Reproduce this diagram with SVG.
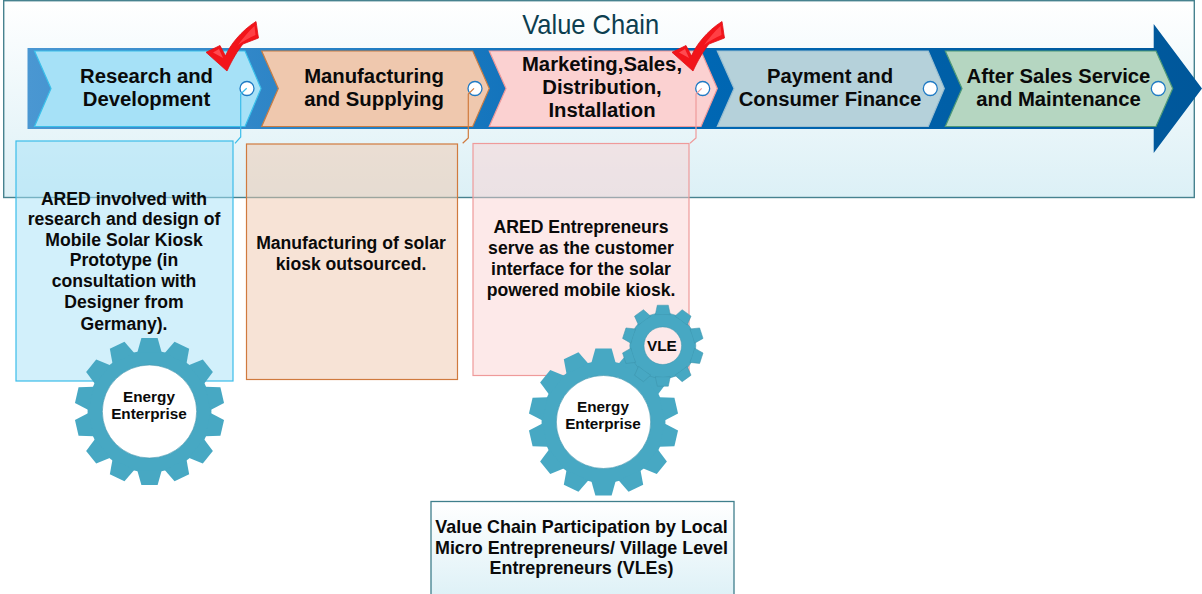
<svg xmlns="http://www.w3.org/2000/svg" xmlns:xlink="http://www.w3.org/1999/xlink" width="1202" height="594" viewBox="0 0 1202 594">
<style>
text{font-family:"Liberation Sans",Arial,sans-serif;font-weight:bold;text-anchor:middle;fill:#0a0a0a}
.h{font-size:20.3px}
.b{font-size:17.6px}
.g{font-size:15.3px}
.dot{fill:#fff;stroke:#1f7ac4;stroke-width:1.3}
.cn{fill:none;stroke-width:1.2}
</style>
<defs>
<linearGradient id="panel" x1="0" y1="0" x2="0" y2="1"><stop offset="0" stop-color="#fff"/><stop offset="1" stop-color="#dcf0f6"/></linearGradient>
<linearGradient id="band" x1="0" y1="0" x2="1" y2="0"><stop offset="0" stop-color="#4a97d2"/><stop offset=".55" stop-color="#0068b5"/><stop offset="1" stop-color="#00579a"/></linearGradient>
<g id="check">
<path d="M256 21.500C257 27 257.500 33 258.500 38L243 44C238 50 232 60 227 71L206 52.300L220 45.500L225.500 56C230 45 241 31 256 21.500Z" fill="#f2141a" stroke="#e01016" stroke-width=".8"/>
<path d="M254.500 26C248 32 243 38 238 45C243 41 249 38 255.500 35Z" fill="#ff3f44"/>
<path d="M213 52.500L219 49L223 58Z" fill="#ff4a50"/>
</g>
<polygon id="t14" points="-12,-59 -8,-73.500 8,-73.500 12,-59" fill="#47a8c3"/>
<g id="gear14">
<circle r="61" fill="#47a8c3"/>
<use xlink:href="#t14"/><use xlink:href="#t14" transform="rotate(25.714)"/><use xlink:href="#t14" transform="rotate(51.429)"/><use xlink:href="#t14" transform="rotate(77.143)"/><use xlink:href="#t14" transform="rotate(102.857)"/><use xlink:href="#t14" transform="rotate(128.571)"/><use xlink:href="#t14" transform="rotate(154.286)"/><use xlink:href="#t14" transform="rotate(180)"/><use xlink:href="#t14" transform="rotate(205.714)"/><use xlink:href="#t14" transform="rotate(231.429)"/><use xlink:href="#t14" transform="rotate(257.143)"/><use xlink:href="#t14" transform="rotate(282.857)"/><use xlink:href="#t14" transform="rotate(308.571)"/><use xlink:href="#t14" transform="rotate(334.286)"/>
<circle r="46.500" fill="#fff" stroke="#3d93ab" stroke-width=".6"/>
</g>
<polygon id="t10" points="-7.500,-31 -5.500,-40.500 5.500,-40.500 7.500,-31" fill="#47a8c3" stroke="#3d93ab" stroke-width=".5"/>
</defs>

<rect id="panel-bg" x="3.700" y=".7" width="1190.600" height="196.800" fill="url(#panel)" stroke="#47828f" stroke-width="1.400"/>
<text x="590.700" y="34" font-size="28" textLength="137" lengthAdjust="spacingAndGlyphs" style="font-weight:normal;fill:#0c3f50">Value Chain</text>

<g id="band-arrow">
<polygon points="27.500,48 1153.700,48 1153.700,24 1202,88.500 1153.700,153 1153.700,129 27.500,129" fill="url(#band)"/>
</g>

<g id="detail-research"><rect x="16" y="141" width="217" height="240" fill="#a6e1f7" fill-opacity=".5" stroke="#3bbdea" stroke-width="1.200"/>
<text class="b"><tspan x="124" y="205">ARED involved with</tspan><tspan x="124" y="225">research and design of</tspan><tspan x="124" y="246">Mobile Solar Kiosk</tspan><tspan x="124" y="266">Prototype (in</tspan><tspan x="124" y="287">consultation with</tspan><tspan x="124" y="308">Designer from</tspan><tspan x="124" y="330">Germany).</tspan></text></g>
<g id="detail-manufacturing"><rect x="246.500" y="144" width="211" height="235.500" fill="#efc8ae" fill-opacity=".5" stroke="#d07a3e" stroke-width="1.200"/>
<text class="b"><tspan x="351" y="249">Manufacturing of solar</tspan><tspan x="351" y="270">kiosk outsourced.</tspan></text></g>
<g id="detail-marketing"><rect x="473" y="143.500" width="216" height="232" fill="#fbd1d1" fill-opacity=".48" stroke="#ef9a9a" stroke-width="1.200"/>
<text class="b"><tspan x="581" y="233">ARED Entrepreneurs</tspan><tspan x="581" y="254">serve as the customer</tspan><tspan x="581" y="275">interface for the solar</tspan><tspan x="581" y="296">powered mobile kiosk.</tspan></text></g>

<g id="stage-research"><polygon points="34.500,51 245,51 261,88.500 245,126.500 34.500,126.500 51,88.500" fill="#a6e1f7" stroke="#3ac0ea" stroke-width="1.200"/>
<text class="h"><tspan x="146.500" y="83">Research and</tspan><tspan x="146.500" y="106">Development</tspan></text></g>
<g id="stage-manufacturing"><polygon points="261.700,51 472.700,51 489.300,88.500 472.700,126.500 261.700,126.500 278.300,88.500" fill="#efc8ae" stroke="#c87d44" stroke-width="1.200"/>
<text class="h"><tspan x="374" y="83">Manufacturing</tspan><tspan x="374" y="106">and Supplying</tspan></text></g>
<g id="stage-marketing"><polygon points="489.300,51 701,51 717.300,88.500 701,126.500 489.300,126.500 506,88.500" fill="#fbd1d1" stroke="#ef9a9a" stroke-width="1.200"/>
<text class="h"><tspan x="602" y="71">Marketing,Sales,</tspan><tspan x="602" y="94">Distribution,</tspan><tspan x="602" y="117">Installation</tspan></text></g>
<g id="stage-payment"><polygon points="717.300,51 928.300,51 944.300,88.500 928.300,126.500 717.300,126.500 734,88.500" fill="#b5d1da" stroke="#9bbfd0" stroke-width="1.200"/>
<text class="h"><tspan x="830" y="83">Payment and</tspan><tspan x="830" y="106">Consumer Finance</tspan></text></g>
<g id="stage-service"><polygon points="945.300,51 1156,51 1172.700,88.500 1156,126.500 945.300,126.500 962,88.500" fill="#b5d6c1" stroke="#4f9a78" stroke-width="1.200"/>
<text class="h"><tspan x="1058.500" y="83">After Sales Service</tspan><tspan x="1058.500" y="106">and Maintenance</tspan></text></g>

<g id="ports">
<circle class="dot" cx="247" cy="88.500" r="7"/><circle class="dot" cx="475" cy="88.500" r="7"/><circle class="dot" cx="702.700" cy="88.500" r="7"/><circle class="dot" cx="930.300" cy="88.500" r="7"/><circle class="dot" cx="1158.300" cy="88.500" r="7"/>
</g>
<g id="connectors">
<polyline class="cn" stroke="#3bbdea" points="246.700,88.300 240.700,94 240.700,137 235,143.300"/>
<polyline class="cn" stroke="#d07a3e" points="474,88.300 468.300,94 468.300,138 462.700,143.300"/>
<polyline class="cn" stroke="#ef9a9a" points="701.700,88.300 696,94 696,138 690,143.300"/>
</g>

<g id="check-research"><use xlink:href="#check"/></g>
<g id="check-marketing"><use xlink:href="#check" transform="translate(466,0)"/></g>

<g id="gear-enterprise-1"><use xlink:href="#gear14" transform="translate(149.500,411.500) scale(1.015,1)"/>
<text class="g"><tspan x="149" y="402">Energy</tspan><tspan x="149" y="419">Enterprise</tspan></text></g>
<g id="gear-enterprise-2"><use xlink:href="#gear14" transform="translate(603.500,422) scale(1.015,1)"/>
<text class="g"><tspan x="603" y="412">Energy</tspan><tspan x="603" y="429">Enterprise</tspan></text></g>
<g id="gear-vle" transform="translate(662.800,345.700)">
<circle r="33" fill="#47a8c3" stroke="#3d93ab" stroke-width=".5"/>
<use xlink:href="#t10"/><use xlink:href="#t10" transform="rotate(36)"/><use xlink:href="#t10" transform="rotate(72)"/><use xlink:href="#t10" transform="rotate(108)"/><use xlink:href="#t10" transform="rotate(144)"/><use xlink:href="#t10" transform="rotate(180)"/><use xlink:href="#t10" transform="rotate(216)"/><use xlink:href="#t10" transform="rotate(252)"/><use xlink:href="#t10" transform="rotate(288)"/><use xlink:href="#t10" transform="rotate(324)"/>
<circle r="31" fill="#47a8c3"/>
<circle r="18.800" fill="#fce8e9" stroke="#3d93ab" stroke-width=".5"/>
<text class="g" x="-1" y="5">VLE</text></g>

<g id="participation-note"><rect x="431" y="501.500" width="303" height="100" fill="url(#panel)" stroke="#3f7f8c" stroke-width="1.300"/>
<text class="b" style="font-size:17.900px"><tspan x="581.500" y="533">Value Chain Participation by Local</tspan><tspan x="581.500" y="554">Micro Entrepreneurs/ Village Level</tspan><tspan x="581.500" y="574">Entrepreneurs (VLEs)</tspan></text></g>
</svg>
